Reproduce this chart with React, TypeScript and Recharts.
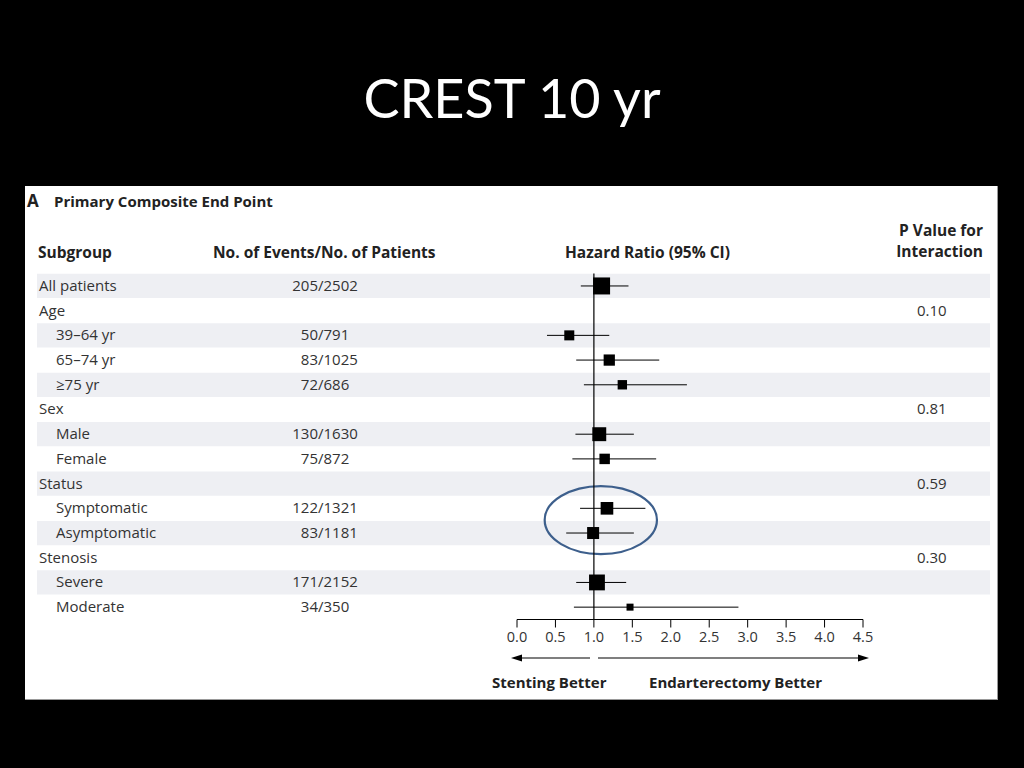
import {
  ScatterChart,
  Scatter,
  XAxis,
  YAxis,
  ErrorBar,
  ReferenceLine,
  ReferenceArea,
} from "recharts";

const rowLabels = [
  "All patients",
  "Age",
  "39–64 yr",
  "65–74 yr",
  "≥75 yr",
  "Sex",
  "Male",
  "Female",
  "Status",
  "Symptomatic",
  "Asymptomatic",
  "Stenosis",
  "Severe",
  "Moderate",
];
const rowIndent = [false, false, true, true, true, false, true, true, false, true, true, false, true, true];
const events = [205, null, 50, 83, 72, null, 130, 75, null, 122, 83, null, 171, 34];
const patients = [2502, null, 791, 1025, 686, null, 1630, 872, null, 1321, 1181, null, 2152, 350];
const hazard = [1.1, null, 0.68, 1.2, 1.37, null, 1.07, 1.14, null, 1.17, 0.99, null, 1.04, 1.47];
const ciLow = [0.83, null, 0.39, 0.77, 0.87, null, 0.76, 0.72, null, 0.82, 0.64, null, 0.77, 0.74];
const ciHigh = [1.45, null, 1.2, 1.85, 2.21, null, 1.52, 1.81, null, 1.67, 1.52, null, 1.42, 2.88];
const pInteraction = [null, "0.10", null, null, null, "0.81", null, null, "0.59", null, null, "0.30", null, null];
const xTicks = [0, 0.5, 1, 1.5, 2, 2.5, 3, 3.5, 4, 4.5];

// circled rows (symptomatic / asymptomatic), in axis units
const highlight = { x1: 0.36, x2: 1.82, y1: 8.1, y2: 10.85 };

const FONT = "'Open Sans', 'DejaVu Sans', sans-serif";
const CHART_W = 973;
const CHART_H = 514;
const PLOT_LEFT = 12;
const PLOT_RIGHT = 965;
const ZERO_X = 492;
const UNIT_PX = 346 / 4.5;
const xDomain = [(PLOT_LEFT - ZERO_X) / UNIT_PX, (PLOT_RIGHT - ZERO_X) / UNIT_PX];

const points = rowLabels
  .map((label, i) => ({
    label,
    row: i,
    hr: hazard[i],
    err: hazard[i] == null ? null : [hazard[i]! - ciLow[i]!, ciHigh[i]! - hazard[i]!],
    n: patients[i],
  }))
  .filter((d) => d.hr != null);

const squareSize = (n: number) => 7 + (10 * (Math.sqrt(n) - Math.sqrt(350))) / (Math.sqrt(2502) - Math.sqrt(350));

function Square(props: any) {
  const { cx, cy, payload } = props;
  const s = squareSize(payload.n);
  return <rect x={cx - s / 2} y={cy - s / 2} width={s} height={s} fill="#000" />;
}

function RowTick(props: any) {
  const { y, payload } = props;
  const i = payload.value;
  return (
    <g fontFamily={FONT} fontSize={15} fill="#333">
      <text x={rowIndent[i] ? 31 : 14} y={y} dy={5}>
        {rowLabels[i]}
      </text>
      {events[i] != null && (
        <>
          <text x={293} y={y} dy={5} textAnchor="end">
            {events[i]}
          </text>
          <text x={293} y={y} dy={5}>
            /{patients[i]}
          </text>
        </>
      )}
      {pInteraction[i] && (
        <text x={892} y={y} dy={5}>
          {pInteraction[i]}
        </text>
      )}
    </g>
  );
}

function Ellipse(props: any) {
  const { x, y, width, height } = props;
  return (
    <ellipse
      cx={x + width / 2}
      cy={y + height / 2}
      rx={width / 2}
      ry={height / 2}
      fill="none"
      stroke="#3d5f8c"
      strokeWidth={2.2}
    />
  );
}

const bold = { position: "absolute" as const, fontWeight: 700, color: "#222", fontFamily: FONT, whiteSpace: "nowrap" as const };

export default function App() {
  return (
    <div style={{ position: "absolute", left: 0, top: 0, width: 1024, height: 768, background: "#000", overflow: "hidden" }}>
      <div
        style={{
          position: "absolute",
          top: 62,
          width: 1024,
          textAlign: "center",
          color: "#fff",
          fontFamily: "Lato, 'Open Sans', sans-serif",
          fontSize: 54,
          lineHeight: "72px",
        }}
      >
        CREST 10 yr
      </div>
      <div
        style={{
          position: "absolute",
          left: 25,
          top: 186,
          width: 972,
          height: 513,
          background: "#fff",
          borderRight: "1px solid #999",
          borderBottom: "1px solid #999",
        }}
      >
        <div style={{ ...bold, left: 2, top: 3, fontSize: 17 }}>A</div>
        <div style={{ ...bold, left: 29, top: 5, fontSize: 15 }}>Primary Composite End Point</div>
        <div style={{ ...bold, left: 13, top: 55, fontSize: 15.5 }}>Subgroup</div>
        <div style={{ ...bold, left: 188, top: 55, fontSize: 15.5 }}>No. of Events/No. of Patients</div>
        <div style={{ ...bold, left: 540, top: 55, fontSize: 15.5 }}>Hazard Ratio (95% CI)</div>
        <div style={{ ...bold, right: 14, top: 34, fontSize: 15.5, textAlign: "right", lineHeight: "21px" }}>
          P Value for
          <br />
          Interaction
        </div>

        <div style={{ position: "absolute", left: 0, top: 0 }}>
          <ScatterChart
            width={CHART_W}
            height={CHART_H}
            margin={{ top: 87.6, right: CHART_W - PLOT_RIGHT, bottom: 50.5, left: PLOT_LEFT - 1 }}
          >
            <XAxis
              type="number"
              dataKey="hr"
              domain={xDomain}
              ticks={xTicks}
              interval={0}
              height={30}
              axisLine={false}
              tickSize={8}
              tickMargin={4}
              tickLine={{ stroke: "#000" }}
              tickFormatter={(v: number) => v.toFixed(1)}
              tick={{ fill: "#333", fontSize: 14.5, fontFamily: FONT }}
            />
            <YAxis
              type="number"
              dataKey="row"
              domain={[-0.5, 13.5]}
              reversed
              width={1}
              ticks={rowLabels.map((_, i) => i)}
              interval={0}
              axisLine={false}
              tickLine={false}
              tick={<RowTick />}
            />
            {rowLabels.map((_, i) =>
              i % 2 === 0 ? (
                <ReferenceArea key={i} y1={i - 0.49} y2={i + 0.49} fill="#eeeff3" fillOpacity={1} stroke="none" />
              ) : null
            )}
            <ReferenceLine
              segment={[
                { x: 0, y: 13.5 },
                { x: 4.5, y: 13.5 },
              ]}
              stroke="#000"
              strokeWidth={1.2}
            />
            <ReferenceLine x={1} stroke="#000" strokeWidth={1.2} />
            <Scatter data={points} isAnimationActive={false} shape={<Square />}>
              <ErrorBar dataKey="err" direction="x" width={0} stroke="#000" strokeWidth={1} />
            </Scatter>
            <ReferenceArea
              x1={highlight.x1}
              x2={highlight.x2}
              y1={highlight.y1}
              y2={highlight.y2}
              shape={(p: any) => <Ellipse {...p} />}
            />
          </ScatterChart>
        </div>

        <svg style={{ position: "absolute", left: 0, top: 0 }} width={972} height={513}>
          <line x1={565} y1={472} x2={496} y2={472} stroke="#000" strokeWidth={1.2} />
          <polygon points="486,472 497,468.5 497,475.5" fill="#000" />
          <line x1={573} y1={472} x2={833} y2={472} stroke="#000" strokeWidth={1.2} />
          <polygon points="844,472 833,468.5 833,475.5" fill="#000" />
        </svg>
        <div style={{ ...bold, left: 467, top: 486, fontSize: 15 }}>Stenting Better</div>
        <div style={{ ...bold, left: 624, top: 486, fontSize: 15 }}>Endarterectomy Better</div>
      </div>
    </div>
  );
}
